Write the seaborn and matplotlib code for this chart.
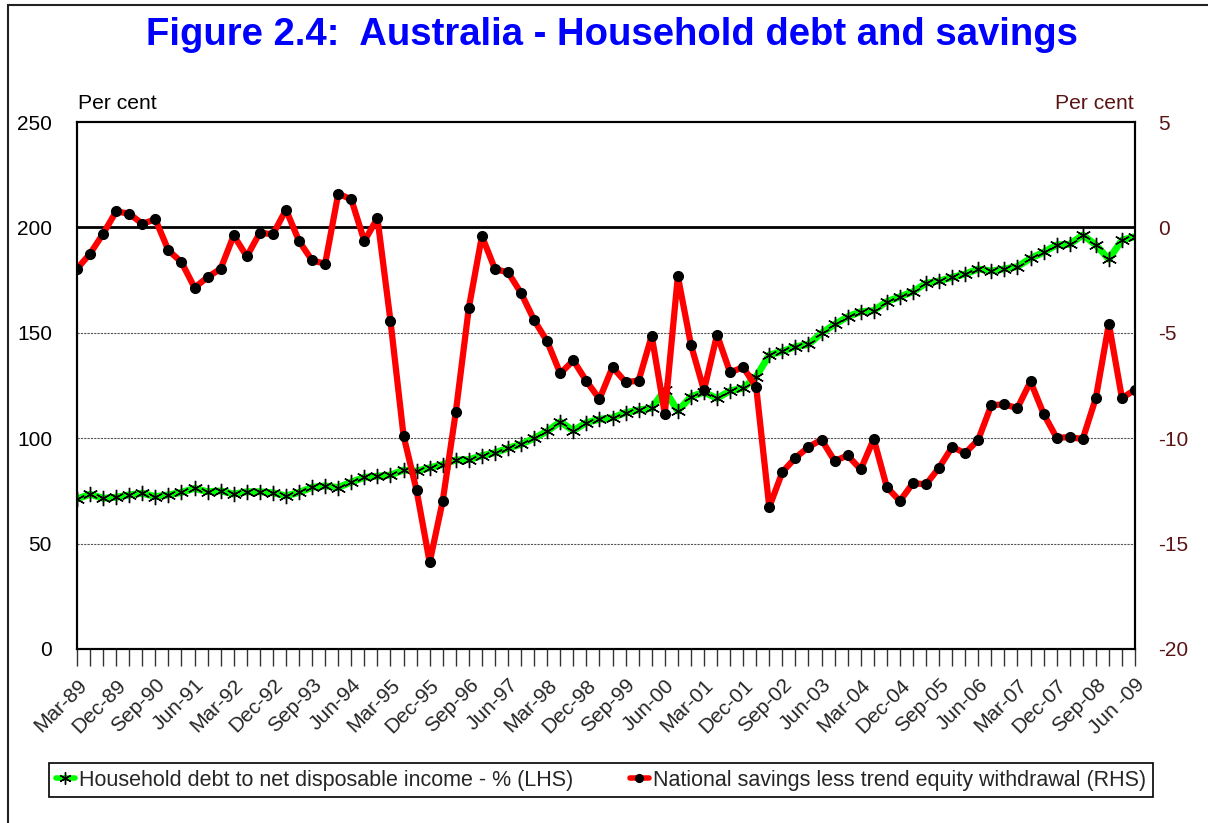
import pandas as pd
import matplotlib.pyplot as plt
import seaborn as sns
from matplotlib.patches import Rectangle

# Quarterly data, Mar-89 .. Jun-09
debt = [71.2, 73.4, 71.5, 72.0, 73.1, 73.9, 72.3, 73.1, 74.3, 76.2,
        74.6, 75.0, 73.5, 74.6, 74.6, 74.1, 72.6, 74.3, 76.7, 77.4,
        76.6, 79.2, 81.4, 82.0, 82.5, 84.9, 84.4, 86.0, 87.5, 89.7,
        89.8, 91.7, 93.1, 95.3, 97.1, 100.0, 103.3, 107.8, 103.6, 107.4,
        109.0, 109.7, 112.1, 113.4, 114.2, 122.9, 112.9, 119.7, 121.8, 118.9,
        122.5, 123.7, 129.2, 139.5, 141.2, 143.4, 144.5, 149.8, 154.0, 157.6,
        160.0, 160.5, 164.8, 167.1, 169.5, 173.5, 174.6, 176.3, 177.9, 180.3,
        179.3, 180.3, 181.4, 185.3, 188.2, 191.7, 192.0, 196.4, 191.7, 184.9,
        194.0, 195.6]

savings = [-1.96, -1.25, -0.30, 0.76, 0.65, 0.17, 0.38, -1.09, -1.65, -2.86,
           -2.36, -1.96, -0.38, -1.38, -0.25, -0.33, 0.84, -0.65, -1.57, -1.72,
           1.60, 1.33, -0.65, 0.44, -4.44, -9.88, -12.48, -15.89, -12.97, -8.76,
           -3.81, -0.41, -1.98, -2.13, -3.12, -4.40, -5.41, -6.93, -6.31, -7.29,
           -8.14, -6.63, -7.34, -7.27, -5.14, -8.84, -2.32, -5.56, -7.73, -5.09,
           -6.88, -6.63, -7.58, -13.27, -11.61, -10.93, -10.42, -10.07, -11.08, -10.82,
           -11.48, -10.04, -12.32, -12.98, -12.13, -12.19, -11.40, -10.42, -10.71, -10.07,
           -8.43, -8.40, -8.57, -7.31, -8.84, -9.98, -9.95, -10.04, -8.10, -4.57,
           -8.10, -7.70]

tick_labels = ['Mar-89', 'Dec-89', 'Sep-90', 'Jun-91', 'Mar-92', 'Dec-92', 'Sep-93',
               'Jun-94', 'Mar-95', 'Dec-95', 'Sep-96', 'Jun-97', 'Mar-98', 'Dec-98',
               'Sep-99', 'Jun-00', 'Mar-01', 'Dec-01', 'Sep-02', 'Jun-03', 'Mar-04',
               'Dec-04', 'Sep-05', 'Jun-06', 'Mar-07', 'Dec-07', 'Sep-08', 'Jun -09']

left_ticks = [0, 50, 100, 150, 200, 250]
right_ticks = [-20, -15, -10, -5, 0, 5]

df = pd.DataFrame({'q': range(len(debt)), 'debt': debt, 'savings': savings})

sns.set_style("white")
plt.rcParams['font.family'] = ['Liberation Sans', 'DejaVu Sans']
plt.rcParams['axes.unicode_minus'] = False

fig = plt.figure(figsize=(12.08, 8.23), dpi=100)
ax = fig.add_axes([77/1208, 1 - 649/823, (1135 - 77)/1208, (649 - 122)/823])
ax2 = ax.twinx()

# gridlines (left axis) and zero line (right axis)
for g in [50, 100, 150]:
    ax.axhline(g, color='#555555', lw=0.8, ls=(0, (2, 1)), zorder=0)
ax2.axhline(0, color='black', lw=2, zorder=1)

sns.lineplot(data=df, x='q', y='debt', ax=ax, color='#00ff00', lw=5,
             marker=(6, 2, 0), markersize=11, markeredgecolor='black',
             markerfacecolor='black', markeredgewidth=1,
             label='Household debt to net disposable income - % (LHS)', legend=False)
sns.lineplot(data=df, x='q', y='savings', ax=ax2, color='#ff0000', lw=4.5,
             marker='o', markersize=7, markeredgecolor='black',
             markerfacecolor='black', markeredgewidth=1,
             label='National savings less trend equity withdrawal (RHS)', legend=False)

ax.set_xlim(0, len(debt) - 1)
ax.set_ylim(0, 250)
ax2.set_ylim(-20, 5)
ax.set_xlabel('')
ax.set_ylabel('')
ax2.set_ylabel('')

ax.set_yticks(left_ticks)
ax2.set_yticks(right_ticks)
ax.tick_params(axis='y', length=0, pad=18, labelsize=15, colors='black')
ax2.tick_params(axis='y', length=0, pad=17, labelsize=15, labelcolor='#5a1414')

xt_labels = [''] * len(debt)
for i, lab in enumerate(tick_labels):
    xt_labels[i * 3] = lab
ax.set_xticks(range(len(debt)))
ax.set_xticklabels(xt_labels, rotation=45, ha='right', rotation_mode='anchor',
                   fontsize=15)
ax.tick_params(axis='x', direction='out', length=12, width=1, pad=7,
               bottom=True, color='#333333')

for a in (ax, ax2):
    for s in a.spines.values():
        s.set_color('black')
        s.set_linewidth(1.5)

fig.text(0.507, 0.958, 'Figure 2.4:  Australia - Household debt and savings',
         ha='center', va='center', fontsize=27.5, fontweight='bold', color='#0000ff')
fig.text(78/1208, 1 - 109/823, 'Per cent', ha='left', va='baseline',
         fontsize=15.2, color='black')
fig.text(1134/1208, 1 - 109/823, 'Per cent', ha='right', va='baseline',
         fontsize=15.2, color='#5a1414')

h1, l1 = ax.get_legend_handles_labels()
h2, l2 = ax2.get_legend_handles_labels()
leg = fig.legend(h1 + h2, l1 + l2, loc='center', bbox_to_anchor=(0.4975, 0.0522),
                 ncol=2, fontsize=15.5, frameon=True, fancybox=False, framealpha=1,
                 edgecolor='black', handlelength=0.9, handletextpad=0.2,
                 columnspacing=2.6, borderpad=0.3, markerscale=0.8)
leg.get_frame().set_linewidth(1.2)
for ln in leg.get_lines():
    ln.set_linewidth(4)

# outer chart border
fig.patches.append(Rectangle((8/1208, -0.1), 1.5, 0.1 + 1 - 5/823,
                             transform=fig.transFigure, fill=False,
                             edgecolor='#222222', lw=1.5))

plt.savefig('out.png', dpi=100)
